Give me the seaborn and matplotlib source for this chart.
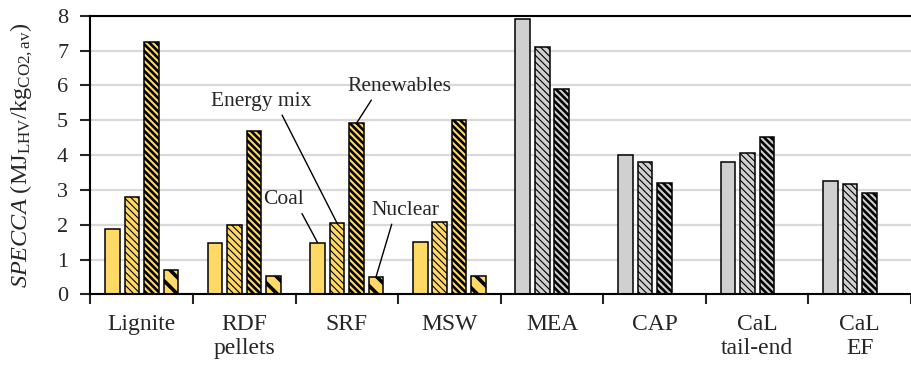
import pandas as pd
import matplotlib
matplotlib.use('Agg')
import matplotlib.pyplot as plt
import seaborn as sns

# values
categories = ['Lignite', 'RDF\npellets', 'SRF', 'MSW', 'MEA', 'CAP', 'CaL\ntail-end', 'CaL\nEF']
scenarios = ['Coal', 'Energy mix', 'Renewables', 'Nuclear']
coal = [1.88, 1.46, 1.48, 1.50, 7.90, 4.00, 3.80, 3.25]
energy_mix = [2.80, 1.98, 2.04, 2.08, 7.10, 3.80, 4.05, 3.16]
renewables = [7.25, 4.69, 4.92, 5.00, 5.90, 3.20, 4.51, 2.91]
nuclear = [0.70, 0.53, 0.51, 0.52, None, None, None, None]

rows = []
for s, vals in zip(scenarios, [coal, energy_mix, renewables, nuclear]):
    for c, v in zip(categories, vals):
        rows.append({'cat': c, 'scenario': s, 'specca': v})
df = pd.DataFrame(rows)

sns.set_style('white')
plt.rcParams['font.family'] = ['Liberation Serif', 'DejaVu Serif']
plt.rcParams['mathtext.fontset'] = 'custom'
plt.rcParams['mathtext.rm'] = 'Liberation Serif'
plt.rcParams['mathtext.it'] = 'Liberation Serif:italic'

fig = plt.figure(figsize=(9.11, 3.67), dpi=100)
ax = fig.add_axes([0.0993, 0.198, 0.9007, 0.759])

sns.barplot(data=df, x='cat', y='specca', hue='scenario', order=categories,
            hue_order=scenarios, width=0.76, gap=0.25, legend=False, ax=ax,
            palette=['#ffd966'] * 4, edgecolor='black', linewidth=1.1,
            saturation=1)

hatches = ['', '\\' * 5, '\\' * 5, '\\\\']
hatch_lw = [0.5, 0.8, 1.9, 2.6]
for i, cont in enumerate(ax.containers):
    for bar in cont:
        if bar.get_height() != bar.get_height():
            continue
        idx = int(round(bar.get_x() + bar.get_width() / 2))
        bar.set_facecolor('#ffd966' if idx < 4 else '#d0d0d0')
        bar.set_hatch(hatches[i])
        if hasattr(bar, 'set_hatch_linewidth'):
            bar.set_hatch_linewidth(hatch_lw[i])

ax.set_xlim(-0.5, 7.5)
ax.set_ylim(0, 8)
ax.set_yticks(range(0, 9))
ax.yaxis.grid(True, color='#d9d9d9', linewidth=1.6)
ax.set_axisbelow(True)
for side in ['left', 'bottom', 'top']:
    ax.spines[side].set_color('black')
    ax.spines[side].set_linewidth(1.5)
ax.spines['right'].set_visible(False)

ax.set_xticks([i - 0.5 for i in range(9)], minor=True)
ax.tick_params(axis='x', which='major', length=0, labelsize=17, pad=14)
ax.tick_params(axis='x', which='minor', length=7, width=1.5, direction='out', bottom=True)
ax.tick_params(axis='y', length=7, width=1.5, direction='out', labelsize=16, left=True, pad=9)
ax.set_xlabel('')
ax.set_ylabel(r'$\mathit{SPECCA}$ (MJ$_{\mathrm{LHV}}$/kg$_{\mathrm{CO2,av}}$)', fontsize=17.5)
ax.yaxis.set_label_coords(-0.068, 0.5)

# labels pointing at the SRF bars
srf = categories.index('SRF')
labels = [('Coal', 1.38, 2.72, 0.9), ('Energy mix', 1.16, 5.55, 0.69),
          ('Renewables', 2.51, 5.98, 0.26), ('Nuclear', 2.57, 2.42, 0.32)]
for i, (txt, tx, ty, rx) in enumerate(labels):
    bar = [b for b in ax.containers[i]
           if int(round(b.get_x() + b.get_width() / 2)) == srf][0]
    ax.annotate(txt, xy=(bar.get_x() + bar.get_width() / 2, bar.get_height()),
                xytext=(tx, ty), ha='center', va='center', fontsize=15.5,
                arrowprops=dict(arrowstyle='-', color='black', lw=1,
                                shrinkA=1, shrinkB=0, relpos=(rx, 0)))

fig.savefig('out.png', dpi=100)
